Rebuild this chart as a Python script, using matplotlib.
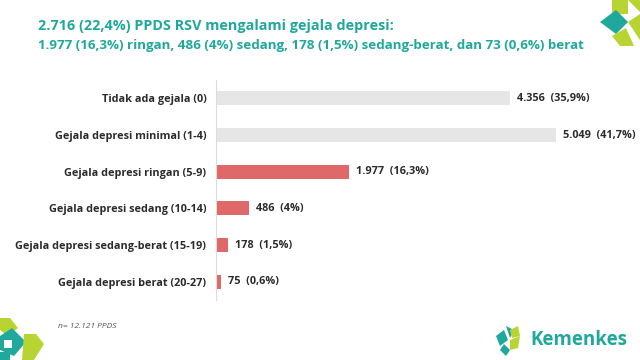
import matplotlib
matplotlib.use("Agg")
import matplotlib.pyplot as plt
from matplotlib.patches import Polygon

categories = [
    "Tidak ada gejala (0)",
    "Gejala depresi minimal (1-4)",
    "Gejala depresi ringan (5-9)",
    "Gejala depresi sedang (10-14)",
    "Gejala depresi sedang-berat (15-19)",
    "Gejala depresi berat (20-27)",
]
counts = [4356, 5049, 1977, 486, 178, 75]
count_labels = ["4.356", "5.049", "1.977", "486", "178", "75"]
pct_labels = ["35,9%", "41,7%", "16,3%", "4%", "1,5%", "0,6%"]
is_depressed = [False, False, True, True, True, True]

title1 = "2.716 (22,4%) PPDS RSV mengalami gejala depresi:"
title2 = "1.977 (16,3%) ringan, 486 (4%) sedang, 178 (1,5%) sedang-berat, dan 73 (0,6%) berat"
footnote = "n= 12.121 PPDS"

plt.rcParams["font.family"] = ["Open Sans", "DejaVu Sans"]

TEAL = "#1FA89B"
LIME = "#B8D433"
RED = "#DF6969"
GRAY = "#E6E6E6"
DARK = "#2B2B2B"

W, H = 640, 360
fig = plt.figure(figsize=(6.4, 3.6), dpi=100)
fig.patch.set_facecolor("white")

ax = fig.add_axes([216 / W, (H - 300) / H, 400 / W, 220 / H])
colors = [RED if d else GRAY for d in is_depressed]
ypos = list(range(len(categories)))
ax.barh(ypos, counts, height=0.38, color=colors)
ax.set_xlim(0, 400 / 0.0674)
ax.set_ylim(len(categories) - 0.5, -0.5)
ax.set_yticks(ypos)
ax.set_yticklabels(categories, fontsize=7.8, fontweight="bold", color=DARK)
ax.tick_params(axis="y", length=0, pad=7)
ax.set_xticks([])
for s in ["top", "right", "bottom"]:
    ax.spines[s].set_visible(False)
ax.spines["left"].set_color("#DCDCDC")
ax.spines["left"].set_linewidth(0.8)

for y, v, c, p in zip(ypos, counts, count_labels, pct_labels):
    ax.annotate(f"{c}  ({p})", xy=(v, y), xytext=(5, 0), textcoords="offset points",
                va="center", ha="left", fontsize=7.8, fontweight="bold", color=DARK)

fig.text(38 / W, 1 - 26 / H, title1, fontsize=10.4, fontweight="bold", color=TEAL,
         va="center", ha="left")
fig.text(38 / W, 1 - 45 / H, title2, fontsize=9.6, fontweight="bold", color=TEAL,
         va="center", ha="left")
fig.text(58 / W, 1 - 326 / H, footnote, fontsize=6, style="italic", color="#555555",
         va="center", ha="left")

# decorative logos
def px(x, y):
    return (x / W, 1 - y / H)

def poly(pts, color):
    fig.patches.append(Polygon([px(*p) for p in pts], closed=True, facecolor=color,
                               edgecolor="none", transform=fig.transFigure))

# top-right corner ornament
poly([(612, 0), (628, 0), (628, 14), (612, 14)], LIME)
poly([(628, 0), (640, 0), (640, 12)], LIME)
poly([(600, 22), (616, 10), (628, 22), (616, 34)], TEAL)
poly([(628, 22), (640, 14), (640, 40)], LIME)
poly([(612, 36), (626, 28), (634, 46), (620, 46)], LIME)

# bottom-left corner ornament
poly([(0, 318), (10, 318), (18, 328), (8, 336), (0, 330)], LIME)
poly([(0, 336), (12, 328), (26, 342), (14, 356), (0, 350)], TEAL)
poly([(4, 340), (12, 340), (12, 348), (4, 348)], "white")
poly([(24, 334), (36, 334), (44, 344), (34, 360), (22, 360)], LIME)
poly([(0, 352), (10, 352), (10, 360), (0, 360)], TEAL)

# Kemenkes logo
poly([(496, 336), (504, 330), (508, 340), (500, 346)], TEAL)
poly([(506, 326), (514, 330), (510, 338)], TEAL)
poly([(510, 340), (520, 336), (518, 348), (510, 350)], LIME)
poly([(510, 330), (518, 326), (520, 336), (512, 338)], LIME)
poly([(504, 344), (510, 350), (506, 356), (500, 350)], TEAL)
fig.text(530 / W, 1 - 340 / H, "Kemenkes", fontsize=13.5, fontweight="bold", color=TEAL,
         va="center", ha="left")

fig.savefig("out.png", dpi=100, facecolor="white")
